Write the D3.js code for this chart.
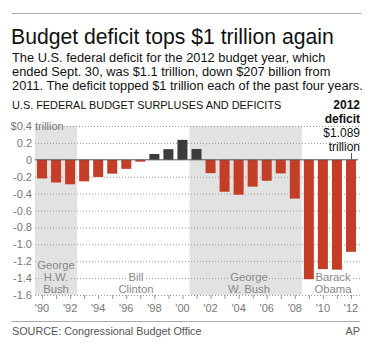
<!DOCTYPE html>
<html>
<head>
<meta charset="utf-8">
<script src="https://cdn.jsdelivr.net/npm/d3@7"></script>
<style>
  body { margin: 0; background: #fff; }
  svg { display: block; font-family: "Liberation Sans", Arial, Helvetica, sans-serif; }
</style>
</head>
<body>
<div id="chart"></div>
<script>
// fiscal years and surplus(+)/deficit(-) in trillions of dollars
const years = d3.range(1990, 2013);
const balances = [-0.221, -0.269, -0.290, -0.255, -0.203, -0.164, -0.107, -0.022,
                  0.069, 0.126, 0.236, 0.128, -0.158, -0.378, -0.413, -0.318,
                  -0.248, -0.161, -0.459, -1.413, -1.294, -1.300, -1.089];
const yTicks = [0.4, 0.2, 0, -0.2, -0.4, -0.6, -0.8, -1.0, -1.2, -1.4, -1.6];
const yearLabels = ["'90", "'92", "'94", "'96", "'98", "'00", "'02", "'04", "'06", "'08", "'10", "'12"];
const presidents = [
    {lines: ["George", "H.W.", "Bush"], start: 1990, end: 1992, shaded: true, cx: 56},
    {lines: ["Bill", "Clinton"], start: 1993, end: 2000, shaded: false, cx: 136},
    {lines: ["George", "W. Bush"], start: 2001, end: 2008, shaded: true, cx: 249},
    {lines: ["Barack", "Obama"], start: 2009, end: 2012, shaded: false, cx: 333}
];
const subtitle = [
    "The U.S. federal deficit for the 2012 budget year, which",
    "ended Sept. 30, was $1.1 trillion, down $207 billion from",
    "2011. The deficit topped $1 trillion each of the past four years."
];

const w = 372, h = 346;
const red = "#c43d26", dark = "#3c3c3c", shade = "#e2e2e2", grey = "#777";

const svg = d3.select("#chart").append("svg")
    .attr("width", w)
    .attr("height", h);

const x = d3.scaleLinear().domain([1989.5, 2012.5]).range([35, 358]);
const y = d3.scaleLinear().domain([-1.6, 0.4]).range([295, 126]);
const barW = 10;
const data = years.map((yr, i) => ({year: yr, value: balances[i]}));

// header
svg.append("line")
    .attr("x1", 12).attr("x2", 361).attr("y1", 13.5).attr("y2", 13.5)
    .attr("stroke", "#aaa").attr("stroke-width", 1);

svg.append("text")
    .attr("x", 11).attr("y", 44)
    .attr("font-size", "21.2px")
    .attr("fill", "#111")
    .text("Budget deficit tops $1 trillion again");

svg.selectAll("text.sub")
    .data(subtitle)
    .enter().append("text")
    .attr("class", "sub")
    .attr("x", 12)
    .attr("y", (d, i) => 62 + i * 14)
    .attr("font-size", "12.85px")
    .attr("fill", "#111")
    .text(d => d);

svg.append("text")
    .attr("x", 12).attr("y", 109)
    .attr("font-size", "10.9px")
    .attr("fill", "#111")
    .text("U.S. FEDERAL BUDGET SURPLUSES AND DEFICITS");

// shaded presidencies
svg.selectAll("rect.term")
    .data(presidents.filter(p => p.shaded))
    .enter().append("rect")
    .attr("class", "term")
    .attr("x", d => x(d.start - 0.5))
    .attr("width", d => x(d.end + 0.5) - x(d.start - 0.5))
    .attr("y", y(0.4))
    .attr("height", y(-1.6) - y(0.4))
    .attr("fill", shade);

// gridlines
svg.selectAll("line.grid")
    .data(yTicks.filter(t => t !== 0))
    .enter().append("line")
    .attr("class", "grid")
    .attr("x1", d => d === 0.4 ? 64 : 35)
    .attr("x2", 360)
    .attr("y1", d => y(d) + 0.5)
    .attr("y2", d => y(d) + 0.5)
    .attr("stroke", "#9a9a9a")
    .attr("stroke-width", 1)
    .attr("stroke-dasharray", "1,2");

// y labels
svg.selectAll("text.ylab")
    .data(yTicks)
    .enter().append("text")
    .attr("class", "ylab")
    .attr("x", 32)
    .attr("y", d => y(d) + 4)
    .attr("text-anchor", "end")
    .attr("font-size", "11px")
    .attr("fill", grey)
    .text(d => d === 0.4 ? "$0.4" : (d === 0 ? "0" : d3.format(".1f")(d).replace("−", "-")));

svg.append("text")
    .attr("x", 35).attr("y", y(0.4) + 4)
    .attr("font-size", "11px")
    .attr("fill", grey)
    .text("trillion");

// president labels
presidents.forEach(p => {
    const base = 293 - (p.lines.length - 1) * 12;
    p.lines.forEach((line, i) => {
        const t = svg.append("text")
            .attr("x", p.cx)
            .attr("y", base + i * 12)
            .attr("text-anchor", "middle")
            .attr("font-size", "11.3px")
            .attr("fill", "#888")
            .text(line);
        const len = t.node().getComputedTextLength();
        svg.insert("rect", () => t.node())
            .attr("x", p.cx - len / 2 - 1)
            .attr("y", base + i * 12 - 9)
            .attr("width", len + 2)
            .attr("height", 11)
            .attr("fill", p.shaded ? shade : "#fff");
    });
});

// bars
svg.selectAll("rect.bar")
    .data(data)
    .enter().append("rect")
    .attr("class", "bar")
    .attr("x", d => x(d.year) - barW / 2)
    .attr("width", barW)
    .attr("y", d => y(Math.max(0, d.value)))
    .attr("height", d => Math.abs(y(d.value) - y(0)))
    .attr("fill", d => d.value < 0 ? red : dark);

// zero line
svg.append("line")
    .attr("x1", 35).attr("x2", 358)
    .attr("y1", y(0)).attr("y2", y(0))
    .attr("stroke", "#555").attr("stroke-width", 1);

// x ticks and labels
svg.selectAll("line.xtick")
    .data(years)
    .enter().append("line")
    .attr("class", "xtick")
    .attr("x1", d => x(d) + 0.5).attr("x2", d => x(d) + 0.5)
    .attr("y1", y(-1.6)).attr("y2", y(-1.6) + 4)
    .attr("stroke", "#999");

svg.selectAll("text.xlab")
    .data(yearLabels)
    .enter().append("text")
    .attr("class", "xlab")
    .attr("x", (d, i) => x(1990 + i * 2))
    .attr("y", 312)
    .attr("text-anchor", "middle")
    .attr("font-size", "11px")
    .attr("fill", grey)
    .text(d => d);

// 2012 annotation
const last = data[data.length - 1];
const note = [
    {t: "2012", bold: true},
    {t: "deficit", bold: true},
    {t: "$" + d3.format(".3f")(-last.value), bold: false},
    {t: "trillion", bold: false}
];
svg.selectAll("text.note")
    .data(note)
    .enter().append("text")
    .attr("class", "note")
    .attr("x", 360)
    .attr("y", (d, i) => 109 + i * 14)
    .attr("text-anchor", "end")
    .attr("font-size", "12px")
    .attr("font-weight", d => d.bold ? "bold" : "normal")
    .attr("fill", "#111")
    .text(d => d.t);

svg.append("line")
    .attr("x1", x(last.year) + 0.5).attr("x2", x(last.year) + 0.5)
    .attr("y1", 153).attr("y2", y(0))
    .attr("stroke", "#555");

// footer
svg.append("line")
    .attr("x1", 12).attr("x2", 360).attr("y1", 321.5).attr("y2", 321.5)
    .attr("stroke", "#aaa").attr("stroke-width", 1);

svg.append("text")
    .attr("x", 12).attr("y", 335)
    .attr("font-size", "10.8px")
    .attr("fill", "#555")
    .text("SOURCE: Congressional Budget Office");

svg.append("text")
    .attr("x", 360).attr("y", 335)
    .attr("text-anchor", "end")
    .attr("font-size", "10.8px")
    .attr("fill", "#555")
    .text("AP");
</script>
</body>
</html>
